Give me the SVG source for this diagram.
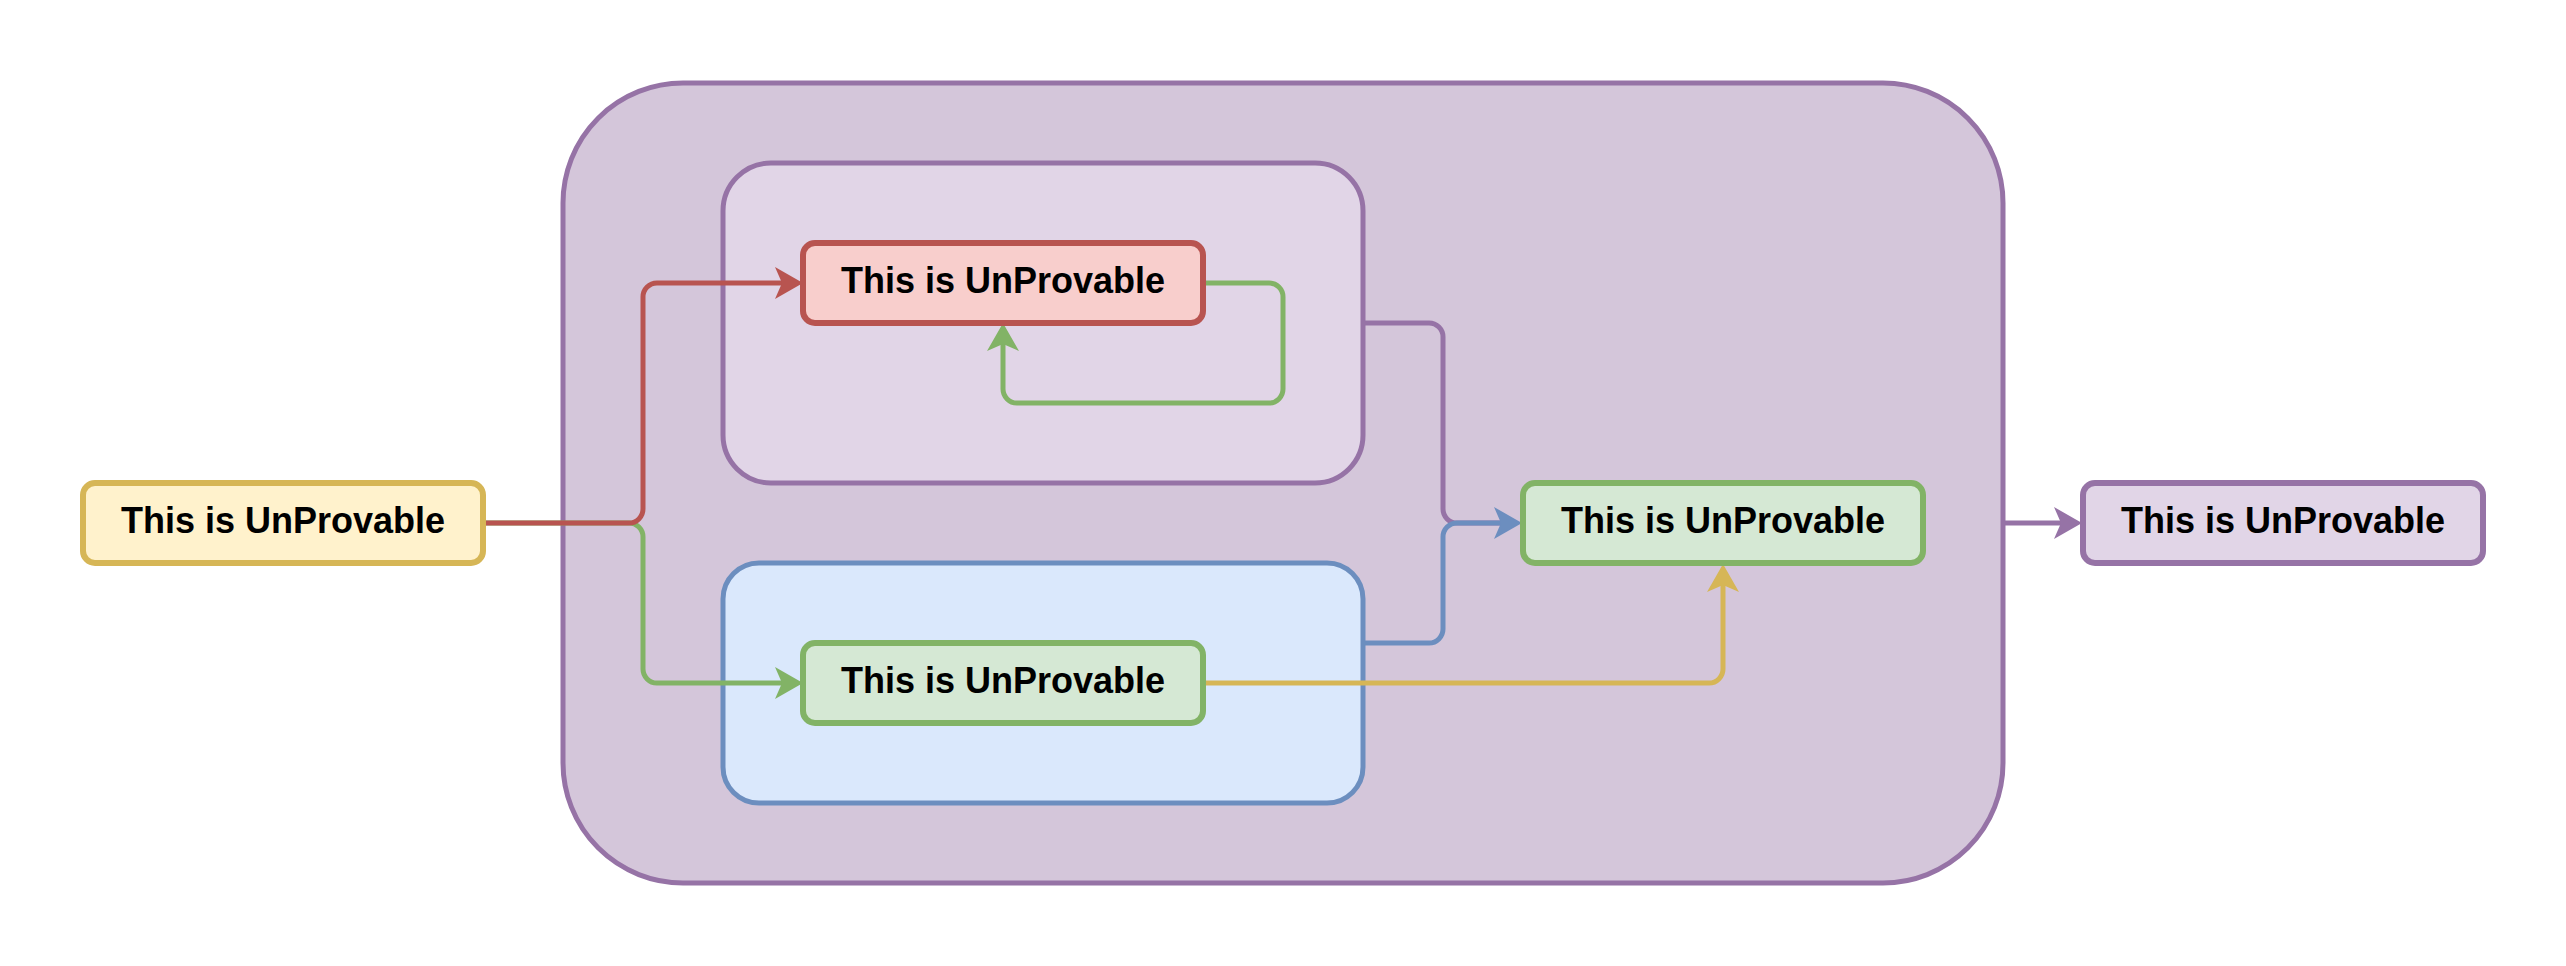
<svg xmlns="http://www.w3.org/2000/svg" width="2566" height="966" viewBox="0 0 2566 966">
<style>
.box{stroke-width:6}
.cont{stroke-width:5}
.edge{fill:none;stroke-width:5}
.lbl{font-family:"Liberation Sans",Arial,sans-serif;font-weight:bold;font-size:36px;text-anchor:middle;fill:#000}
.purple{fill:#e1d5e7;stroke:#9673a6}
.red{fill:#f8cecc;stroke:#b85450}
.green{fill:#d5e8d4;stroke:#82b366}
.yellow{fill:#fff2cc;stroke:#d6b656}
.blue{fill:#dae8fc;stroke:#6c8ebf}
</style>
<defs>
<marker id="aRed" markerUnits="userSpaceOnUse" markerWidth="28" markerHeight="32" refX="7" refY="16" orient="auto" viewBox="0 0 28 32"><path d="M0,0 L28,16 L0,32 L7,16 Z" fill="#b85450"/></marker>
<marker id="aGreen" markerUnits="userSpaceOnUse" markerWidth="28" markerHeight="32" refX="7" refY="16" orient="auto" viewBox="0 0 28 32"><path d="M0,0 L28,16 L0,32 L7,16 Z" fill="#82b366"/></marker>
<marker id="aBlue" markerUnits="userSpaceOnUse" markerWidth="28" markerHeight="32" refX="7" refY="16" orient="auto" viewBox="0 0 28 32"><path d="M0,0 L28,16 L0,32 L7,16 Z" fill="#6c8ebf"/></marker>
<marker id="aYellow" markerUnits="userSpaceOnUse" markerWidth="28" markerHeight="32" refX="7" refY="16" orient="auto" viewBox="0 0 28 32"><path d="M0,0 L28,16 L0,32 L7,16 Z" fill="#d6b656"/></marker>
<marker id="aPurple" markerUnits="userSpaceOnUse" markerWidth="28" markerHeight="32" refX="7" refY="16" orient="auto" viewBox="0 0 28 32"><path d="M0,0 L28,16 L0,32 L7,16 Z" fill="#9673a6"/></marker>
</defs>
<g id="outer-container">
<rect class="cont" x="563" y="83" width="1440" height="800" rx="120" ry="120" fill="#d4c6da" stroke="#9673a6"/>
</g>
<g id="top-container">
<rect class="cont purple" x="723" y="163" width="640" height="320" rx="48" ry="48"/>
</g>
<g id="bottom-container">
<rect class="cont blue" x="723" y="563" width="640" height="240" rx="36" ry="36"/>
</g>
<g id="connectors">
<path class="edge" stroke="#82b366" d="M483,523 H629 A14,14 0 0 1 643,537 V669 A14,14 0 0 0 657,683 H782" marker-end="url(#aGreen)"/>
<path class="edge" stroke="#b85450" d="M483,523 H629 A14,14 0 0 0 643,509 V297 A14,14 0 0 1 657,283 H782" marker-end="url(#aRed)"/>
<path class="edge" stroke="#82b366" d="M1203,283 H1269 A14,14 0 0 1 1283,297 V389 A14,14 0 0 1 1269,403 H1017 A14,14 0 0 1 1003,389 V344" marker-end="url(#aGreen)"/>
<path class="edge" stroke="#9673a6" d="M1363,323 H1429 A14,14 0 0 1 1443,337 V509 A14,14 0 0 0 1457,523 H1501"/>
<path class="edge" stroke="#6c8ebf" d="M1363,643 H1429 A14,14 0 0 0 1443,629 V537 A14,14 0 0 1 1457,523 H1501" marker-end="url(#aBlue)"/>
<path class="edge" stroke="#d6b656" d="M1203,683 H1709 A14,14 0 0 0 1723,669 V585" marker-end="url(#aYellow)"/>
<path class="edge" stroke="#9673a6" d="M2003,523 H2061" marker-end="url(#aPurple)"/>
</g>
<g id="node-input">
<rect class="box yellow" x="83" y="483" width="400" height="80" rx="12" ry="12"/>
<text class="lbl" x="283" y="533">This is UnProvable</text>
</g>
<g id="node-red">
<rect class="box red" x="803" y="243" width="400" height="80" rx="12" ry="12"/>
<text class="lbl" x="1003" y="293">This is UnProvable</text>
</g>
<g id="node-green-inner">
<rect class="box green" x="803" y="643" width="400" height="80" rx="12" ry="12"/>
<text class="lbl" x="1003" y="693">This is UnProvable</text>
</g>
<g id="node-green-right">
<rect class="box green" x="1523" y="483" width="400" height="80" rx="12" ry="12"/>
<text class="lbl" x="1723" y="533">This is UnProvable</text>
</g>
<g id="node-output">
<rect class="box purple" x="2083" y="483" width="400" height="80" rx="12" ry="12"/>
<text class="lbl" x="2283" y="533">This is UnProvable</text>
</g>
</svg>
